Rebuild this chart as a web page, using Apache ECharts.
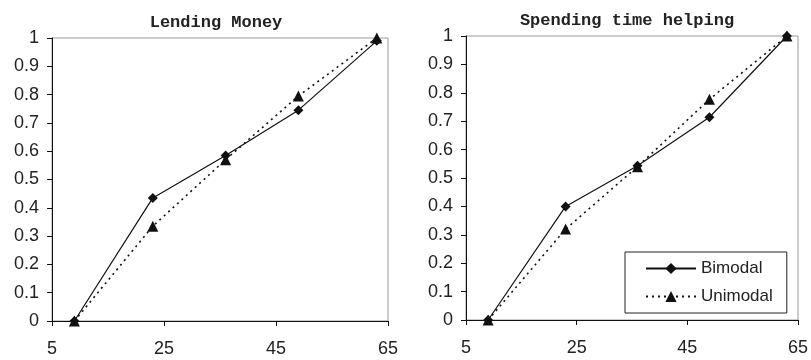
<!DOCTYPE html>
<html>
<head>
<meta charset="utf-8">
<script src="https://cdn.jsdelivr.net/npm/echarts@6/dist/echarts.min.js"></script>
<style>
  html, body { margin: 0; padding: 0; background: #fff; }
  #chart { width: 811px; height: 360px; }
</style>
</head>
<body>
<div id="chart"></div>
<script>
// x positions of the points (same in both panels)
const xValues = [9, 23, 36, 49, 63]
const xTicks = [5, 25, 45, 65]

const lendingBimodal = [0, 0.435, 0.585, 0.745, 0.99]
const lendingUnimodal = [0, 0.335, 0.57, 0.795, 1.0]
const helpingBimodal = [0, 0.40, 0.543, 0.714, 1.0]
const helpingUnimodal = [0, 0.32, 0.54, 0.777, 1.0]

const titles = ['Lending Money', 'Spending time helping']
const seriesNames = ['Bimodal', 'Unimodal']

const pairs = (ys) => xValues.map((x, i) => [x, ys[i]])

const chart = echarts.init(document.getElementById('chart'))

const labelFont = { color: '#222', fontSize: 18, fontFamily: 'Arial, "Liberation Sans", sans-serif' }
const titleFont = { fontFamily: '"Courier New", "Liberation Mono", monospace', fontWeight: 'bold', fontSize: 17, color: '#222' }

const makeX = (gridIndex) => ({
  type: 'value',
  gridIndex,
  min: xTicks[0],
  max: xTicks[xTicks.length - 1],
  interval: xTicks[1] - xTicks[0],
  axisLine: { lineStyle: { color: '#111', width: 1 } },
  axisTick: { show: true, length: 5, lineStyle: { color: '#111' } },
  axisLabel: { ...labelFont, margin: 19 },
  splitLine: { show: false }
})

const makeY = (gridIndex) => ({
  type: 'value',
  gridIndex,
  min: 0,
  max: 1,
  interval: 0.1,
  axisLine: { show: true, lineStyle: { color: '#111', width: 1 } },
  axisTick: { show: true, length: 5, lineStyle: { color: '#111' } },
  axisLabel: { ...labelFont, margin: 13 },
  splitLine: { show: false }
})

const bimodalSeries = (idx, data) => ({
  name: seriesNames[0],
  type: 'line',
  xAxisIndex: idx,
  yAxisIndex: idx,
  data: pairs(data),
  symbol: 'diamond',
  symbolSize: 10,
  lineStyle: { color: '#111', width: 1.2, type: 'solid' },
  itemStyle: { color: '#111' },
  z: 3
})

const unimodalSeries = (idx, data) => ({
  name: seriesNames[1],
  type: 'line',
  xAxisIndex: idx,
  yAxisIndex: idx,
  data: pairs(data),
  symbol: 'triangle',
  symbolSize: 11,
  lineStyle: { color: '#111', width: 1.6, type: [2, 4] },
  itemStyle: { color: '#111' },
  z: 4
})

const option = {
  animation: false,
  backgroundColor: '#fff',
  title: [
    { text: titles[0], left: 211, top: 9, textAlign: 'center', textStyle: titleFont },
    { text: titles[1], left: 622, top: 7, textAlign: 'center', textStyle: titleFont }
  ],
  legend: {
    data: seriesNames,
    orient: 'vertical',
    left: 625,
    top: 252,
    padding: [8, 14, 8, 20],
    itemWidth: 50,
    itemHeight: 14,
    itemGap: 11,
    borderColor: '#222',
    borderWidth: 1,
    backgroundColor: '#fff',
    textStyle: { color: '#222', fontSize: 17, fontFamily: 'Arial, "Liberation Sans", sans-serif' }
  },
  grid: [
    { left: 52, right: 423, top: 38, bottom: 39, show: true, borderColor: '#999', borderWidth: 1 },
    { left: 466, right: 11, top: 36, bottom: 40, show: true, borderColor: '#999', borderWidth: 1 }
  ],
  xAxis: [makeX(0), makeX(1)],
  yAxis: [makeY(0), makeY(1)],
  series: [
    bimodalSeries(0, lendingBimodal),
    unimodalSeries(0, lendingUnimodal),
    bimodalSeries(1, helpingBimodal),
    unimodalSeries(1, helpingUnimodal)
  ]
}

chart.setOption(option)
</script>
</body>
</html>
